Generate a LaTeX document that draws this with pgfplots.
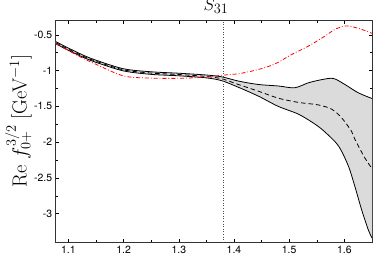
\documentclass[border=0pt]{standalone}
\usepackage{fontspec}
\newfontfamily\helv{TeX Gyre Heros}
\usepackage{pgfplots}
\pgfplotsset{compat=1.18}
\usepgfplotslibrary{fillbetween}
\begin{document}
\begin{tikzpicture}
\begin{axis}[name=ax, scale only axis, width=316.3bp, height=221.8bp,
  xmin=1.077, xmax=1.65, ymin=-3.4, ymax=-0.3,
  xtick={1.1,1.2,1.3,1.4,1.5,1.6}, ytick={-3,-2.5,-2,-1.5,-1,-0.5},
  minor x tick num=1, minor y tick num=1,
  tick align=inside, major tick length=3bp, minor tick length=2bp,
  tick style={black, line width=0.4pt},
  axis line style={black!80, line width=0.5pt},
  ticklabel style={font=\helv\fontsize{10.5}{12}\selectfont},
  /pgf/number format/assume math mode=true,
  xticklabel style={/pgf/number format/fixed, /pgf/number format/precision=1},
  ylabel={Re $f_{0+}^{3/2}$ [GeV$^{-1}$]},
  ylabel style={font=\fontsize{20.5}{24}\selectfont, at={(axis description cs:-0.118,0.547)}, anchor=center},
  title={$S_{31}$},
  title style={font=\fontsize{19}{22}\selectfont, at={(axis description cs:0.507,1.0)}, anchor=base, yshift=4.2bp, inner sep=0pt},
  clip=true,
]
\addplot[name path=up, draw=none, smooth] coordinates {
(1.077,-0.595) (1.1,-0.685) (1.127,-0.785) (1.15,-0.855) (1.2,-0.975) (1.25,-1.017)
(1.3,-1.037) (1.35,-1.062) (1.378,-1.088) (1.41,-1.150) (1.445,-1.195) (1.48,-1.215)
(1.51,-1.240) (1.535,-1.170) (1.56,-1.125) (1.58,-1.110) (1.60,-1.190) (1.625,-1.310)
(1.65,-1.390)};
\addplot[name path=lo, draw=none, smooth] coordinates {
(1.077,-0.625) (1.1,-0.717) (1.127,-0.815) (1.15,-0.885) (1.2,-1.005) (1.25,-1.053)
(1.3,-1.073) (1.35,-1.102) (1.378,-1.142) (1.41,-1.240) (1.445,-1.360) (1.48,-1.500)
(1.517,-1.610) (1.547,-1.750) (1.565,-1.860) (1.589,-2.050) (1.607,-2.330) (1.619,-2.620)
(1.631,-2.940) (1.643,-3.220) (1.65,-3.340)};
\addplot[fill=black!14, draw=none] fill between[of=up and lo];
\addplot[black, line width=0.8pt, smooth] coordinates {
(1.077,-0.595) (1.1,-0.685) (1.127,-0.785) (1.15,-0.855) (1.2,-0.975) (1.25,-1.017)
(1.3,-1.037) (1.35,-1.062) (1.378,-1.088) (1.41,-1.150) (1.445,-1.195) (1.48,-1.215)
(1.51,-1.240) (1.535,-1.170) (1.56,-1.125) (1.58,-1.110) (1.60,-1.190) (1.625,-1.310)
(1.65,-1.390)};
\addplot[black, line width=0.8pt, smooth] coordinates {
(1.077,-0.625) (1.1,-0.717) (1.127,-0.815) (1.15,-0.885) (1.2,-1.005) (1.25,-1.053)
(1.3,-1.073) (1.35,-1.102) (1.378,-1.142) (1.41,-1.240) (1.445,-1.360) (1.48,-1.500)
(1.517,-1.610) (1.547,-1.750) (1.565,-1.860) (1.589,-2.050) (1.607,-2.330) (1.619,-2.620)
(1.631,-2.940) (1.643,-3.220) (1.65,-3.340)};
\addplot[black, line width=0.8pt, dash pattern=on 4.5bp off 3bp, smooth] coordinates {
(1.077,-0.610) (1.1,-0.701) (1.127,-0.800) (1.15,-0.870) (1.2,-0.990) (1.25,-1.035)
(1.3,-1.055) (1.35,-1.082) (1.378,-1.115) (1.41,-1.200) (1.445,-1.290) (1.48,-1.385)
(1.517,-1.445) (1.553,-1.480) (1.577,-1.540) (1.595,-1.660) (1.613,-1.850) (1.619,-1.960)
(1.637,-2.220) (1.65,-2.370)};
\addplot[red, line width=0.8pt, dash pattern=on 4bp off 2bp on 0.8bp off 2bp, smooth] coordinates {
(1.077,-0.620) (1.1,-0.720) (1.127,-0.830) (1.15,-0.912) (1.2,-1.075) (1.25,-1.105)
(1.3,-1.108) (1.35,-1.090) (1.378,-1.065) (1.409,-1.043) (1.445,-0.983) (1.475,-0.904)
(1.505,-0.773) (1.535,-0.657) (1.565,-0.517) (1.583,-0.423) (1.601,-0.377) (1.613,-0.385)
(1.631,-0.423) (1.65,-0.480)};
\addplot[black!70, line width=0.6pt, dotted] coordinates {(1.38,-3.4) (1.38,-0.3)};
\end{axis}
\pgfresetboundingbox
\path ([shift={(-55.7bp,-14.7bp)}]ax.south west) rectangle ([shift={(2bp,20.5bp)}]ax.north east);
\end{tikzpicture}
\end{document}
